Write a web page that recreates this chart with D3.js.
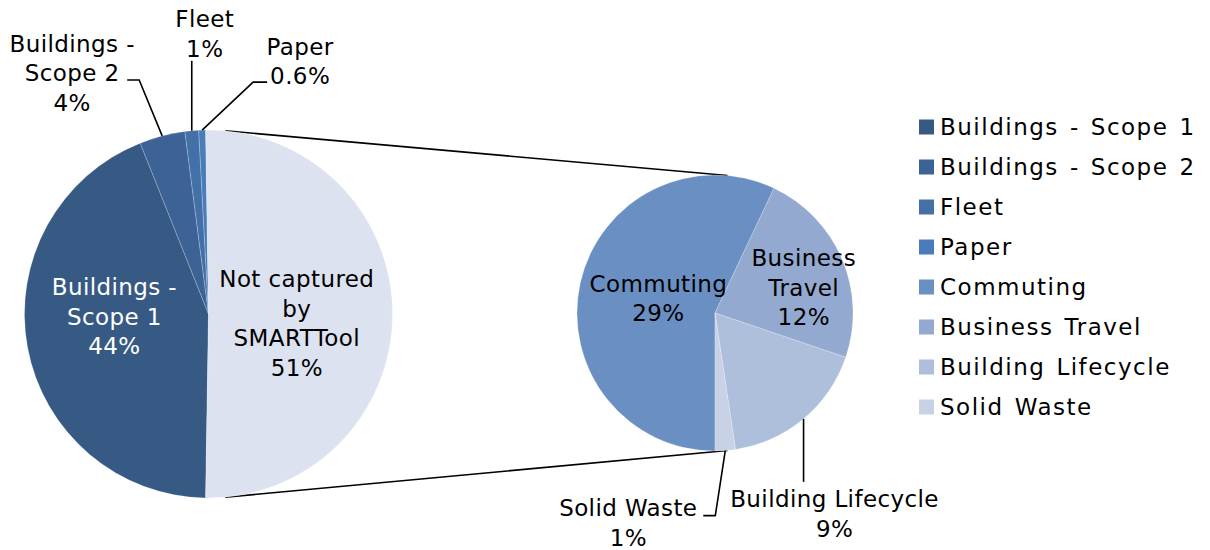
<!DOCTYPE html>
<html>
<head>
<meta charset="utf-8">
<script src="https://cdn.jsdelivr.net/npm/d3@7"></script>
<style>
  body { margin: 0; background: #fff; }
  text { font-family: Verdana, "DejaVu Sans", sans-serif; }
</style>
</head>
<body>
<svg id="chart"></svg>
<script>
// Main pie categories (share of total, %), last one is split into the second pie
const mainNames = ["Buildings - Scope 1", "Buildings - Scope 2", "Fleet", "Paper", "Not captured by SMARTTool"];
const mainValues = [43.7, 4.0, 1.2, 0.6, 50.5];
const mainLabels = ["44%", "4%", "1%", "0.6%", "51%"];

// Second pie, breakdown of "Not captured"
const subNames = ["Commuting", "Business Travel", "Building Lifecycle", "Solid Waste"];
const subValues = [28.8, 11.7, 8.8, 1.2];
const subLabels = ["29%", "12%", "9%", "1%"];

const legendNames = mainNames.slice(0, 4).concat(subNames);
const colors = ["#375a84", "#3d6396", "#4470a8", "#4a7cbb", "#6a8fc2", "#93a9cf", "#aebfdb", "#c8d1e6"];
const otherColor = "#dce2ef";

let width = 1210
let height = 550
let fontSize = 23

// pie geometry
let c1 = {x: 208.5, y: 314, r: 184}
let c2 = {x: 715, y: 313, r: 138}

const svg = d3.select("#chart")
    .attr("width", width)
    .attr("height", height)
    .attr("viewBox", [0, 0, width, height]);

const color = d3.scaleOrdinal(legendNames.concat([mainNames[4]]), colors.concat([otherColor]));

// Excel centres the "other" slice at 3 o'clock
const total = d3.sum(mainValues);
const otherAngle = mainValues[4] / total * 2 * Math.PI;
const a0 = Math.PI / 2 + otherAngle / 2;

const mainData = mainNames.map((n, i) => ({name: n, value: mainValues[i], label: mainLabels[i]}));
const subData = subNames.map((n, i) => ({name: n, value: subValues[i], label: subLabels[i]}));

const pie1 = d3.pie().value(d => d.value).sort(null).startAngle(a0).endAngle(a0 + 2 * Math.PI);
const pie2 = d3.pie().value(d => d.value).sort(null).startAngle(Math.PI).endAngle(3 * Math.PI);

const arc1 = d3.arc().innerRadius(0).outerRadius(c1.r);
const arc2 = d3.arc().innerRadius(0).outerRadius(c2.r);

const arcs1 = pie1(mainData);
const arcs2 = pie2(subData);

// connector lines: external tangents of the two circles
const dist = c2.x - c1.x;
const th = Math.asin((c1.r - c2.r) / dist);
[-1, 1].forEach(s => {
  const p1 = [c1.x + c1.r * Math.sin(th), c1.y + s * c1.r * Math.cos(th)];
  const p2 = [c2.x + c2.r * Math.sin(th), c2.y + s * c2.r * Math.cos(th)];
  svg.append("line")
      .attr("x1", p1[0]).attr("y1", p1[1])
      .attr("x2", p2[0]).attr("y2", p2[1])
      .attr("stroke", "#000").attr("stroke-width", 1.6);
});

svg.append("g")
    .attr("transform", `translate(${c1.x},${c1.y})`)
    .selectAll("path")
    .data(arcs1)
    .join("path")
    .attr("d", arc1)
    .attr("fill", d => color(d.data.name))
    .attr("stroke", "#fff")
    .attr("stroke-opacity", 0.35)
    .attr("stroke-width", 0.6);

svg.append("g")
    .attr("transform", `translate(${c2.x},${c2.y})`)
    .selectAll("path")
    .data(arcs2)
    .join("path")
    .attr("d", arc2)
    .attr("fill", d => color(d.data.name))
    .attr("stroke", "#fff")
    .attr("stroke-opacity", 0.35)
    .attr("stroke-width", 0.6);

// point on a pie's rim at a slice's mid angle
function rimPoint(c, d, k = 1) {
  const a = (d.startAngle + d.endAngle) / 2;
  return [c.x + k * c.r * Math.sin(a), c.y - k * c.r * Math.cos(a)];
}

function textBlock(g, x, y, lines, fill) {
  const lh = 29.5;
  const t = g.append("text")
      .attr("text-anchor", "middle")
      .attr("font-size", fontSize)
      .attr("letter-spacing", 0.4)
      .attr("fill", fill);
  lines.forEach((l, i) => {
    t.append("tspan")
        .attr("x", x)
        .attr("y", y + (i - (lines.length - 1) / 2) * lh)
        .attr("dy", "0.36em")
        .text(l);
  });
}

const labels = svg.append("g");

// inside labels: radius factor and small nudge
const inside = [
  {arcs: arcs1, c: c1, i: 0, k: 0.52, dx: 0, dy: -15, lines: ["Buildings -", "Scope 1"], fill: "#fff"},
  {arcs: arcs1, c: c1, i: 4, k: 0.48, dx: 0, dy: 9, lines: ["Not captured", "by", "SMARTTool"], fill: "#000"},
  {arcs: arcs2, c: c2, i: 0, k: 0.42, dx: 0, dy: -2, lines: ["Commuting"], fill: "#000"},
  {arcs: arcs2, c: c2, i: 1, k: 0.62, dx: 10, dy: 8, lines: ["Business", "Travel"], fill: "#000"}
];
inside.forEach(o => {
  const d = o.arcs[o.i];
  const p = rimPoint(o.c, d, o.k);
  textBlock(labels, p[0] + o.dx, p[1] + o.dy, o.lines.concat([d.data.label]), o.fill);
});

// outside labels with leader lines (offsets from the rim point)
const outside = [
  {arcs: arcs1, c: c1, i: 1, path: [[-23, -56], [-35, -56]], tx: -90, ty: -63, lines: ["Buildings -", "Scope 2"]},
  {arcs: arcs1, c: c1, i: 2, path: [[0, -70]], tx: 13, ty: -97, lines: ["Fleet"]},
  {arcs: arcs1, c: c1, i: 3, path: [[51, -48], [65, -48]], tx: 98, ty: -69, lines: ["Paper"]},
  {arcs: arcs2, c: c2, i: 2, path: [[0, 63]], tx: 31, ty: 95, lines: ["Building Lifecycle"]},
  {arcs: arcs2, c: c2, i: 3, path: [[-10, 65], [-22, 65]], tx: -97, ty: 72, lines: ["Solid Waste"]}
];
outside.forEach(o => {
  const d = o.arcs[o.i];
  const p = rimPoint(o.c, d);
  const pts = [p].concat(o.path.map(q => [p[0] + q[0], p[1] + q[1]]));
  labels.append("path")
      .attr("d", d3.line()(pts))
      .attr("fill", "none")
      .attr("stroke", "#000")
      .attr("stroke-width", 1.6);
  textBlock(labels, p[0] + o.tx, p[1] + o.ty, o.lines.concat([d.data.label]), "#000");
});

// legend
const legend = svg.append("g")
    .attr("transform", "translate(919,127)")
    .selectAll("g")
    .data(legendNames)
    .join("g")
    .attr("transform", (d, i) => `translate(0,${i * 40})`);

legend.append("rect")
    .attr("x", 0).attr("y", -7.5)
    .attr("width", 15).attr("height", 15)
    .attr("fill", d => color(d));

legend.append("text")
    .attr("x", 21)
    .attr("dy", "0.36em")
    .attr("font-size", fontSize)
    .attr("letter-spacing", 1.5)
    .attr("word-spacing", 2.3)
    .text(d => d);
</script>
</body>
</html>
